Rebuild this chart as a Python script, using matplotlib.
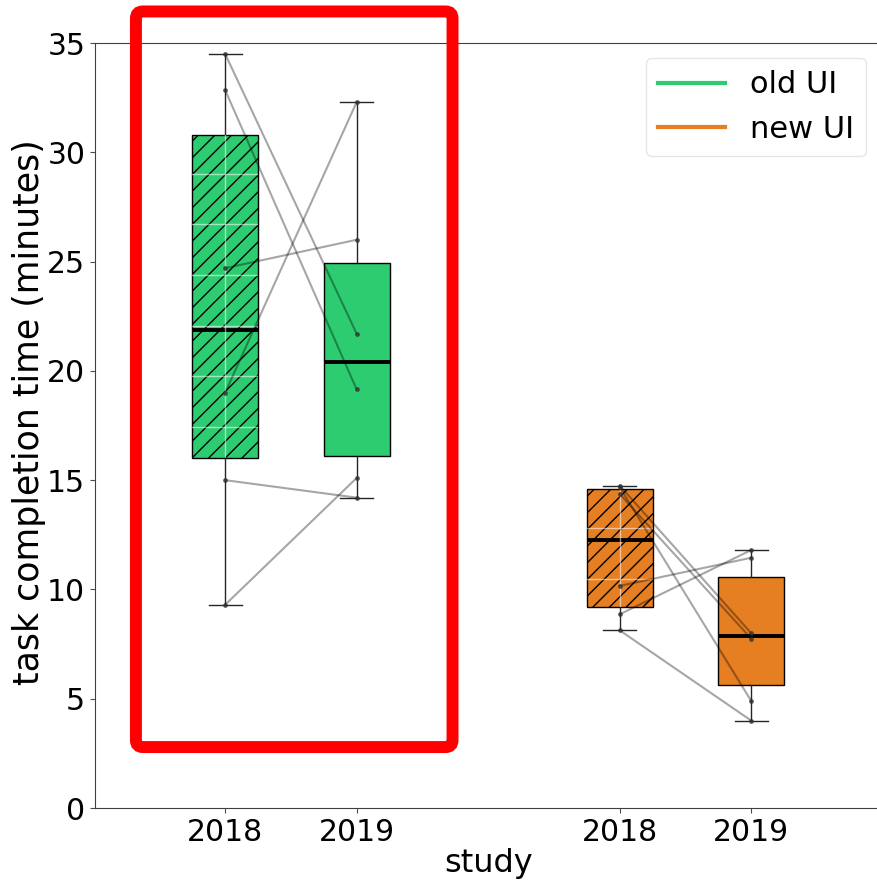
import numpy as np
import matplotlib.pyplot as plt
from matplotlib.lines import Line2D
from matplotlib.patches import FancyBboxPatch

# one value per participant, same order in both studies (lines join them)
years = ['2018', '2019']
old_2018 = [34.5, 32.85, 24.7, 19.0, 15.0, 9.3]
old_2019 = [21.7, 19.15, 26.0, 32.3, 14.2, 15.1]
new_2018 = [14.75, 14.68, 14.37, 10.16, 8.86, 8.13]
new_2019 = [8.0, 4.9, 7.75, 11.45, 11.8, 4.0]
groups = ['old UI', 'new UI']

green = '#2ecc71'
orange = '#e67e22'

fig = plt.figure(figsize=(8.77, 8.82), dpi=100)
ax = fig.add_axes([0.1083, 0.0839, 5.99 * 131.5 / 877, 0.8673])

positions = [1, 2, 4, 5]
data = [old_2018, old_2019, new_2018, new_2019]
colors = [green, green, orange, orange]
hatches = ['//', None, '//', None]

bp = ax.boxplot(data, positions=positions, widths=0.5, patch_artist=True,
                showfliers=False,
                boxprops=dict(edgecolor='k', linewidth=1),
                medianprops=dict(color='k', linewidth=2.8),
                whiskerprops=dict(color='0.15', linewidth=1),
                capprops=dict(color='0.15', linewidth=1))

for box, c, h in zip(bp['boxes'], colors, hatches):
    box.set_facecolor(c)
    if h:
        box.set_hatch(h)

# faint white grid that shows through the hatched boxes
grid_y = np.arange(10.47, 35, 2.32)
for box, pos, h in zip(bp['boxes'], positions, hatches):
    if not h:
        continue
    for gy in grid_y:
        ln = ax.axhline(gy, color='white', lw=1, alpha=0.55, zorder=2.5)
        ln.set_clip_path(box)
    ln = ax.axvline(pos, color='white', lw=1, alpha=0.55, zorder=2.5)
    ln.set_clip_path(box)

# participant lines
for a, b in zip(old_2018, old_2019):
    ax.plot(positions[0:2], [a, b], color='k', alpha=0.35, lw=1.5, zorder=4)
    ax.plot(positions[0:2], [a, b], 'o', color='#333333', ms=2.5, alpha=0.7, zorder=4)
for a, b in zip(new_2018, new_2019):
    ax.plot(positions[2:4], [a, b], color='k', alpha=0.35, lw=1.5, zorder=4)
    ax.plot(positions[2:4], [a, b], 'o', color='#333333', ms=2.5, alpha=0.7, zorder=4)

ax.set_xlim(0.01, 6)
ax.set_ylim(0, 35)
ax.set_yticks(range(0, 36, 5))
ax.set_xticks(positions)
ax.set_xticklabels(years + years)
ax.tick_params(labelsize=21.5, color='0.3')
ax.set_xlabel('study', fontsize=23, labelpad=1)
ax.set_ylabel('task completion time (minutes)', fontsize=25)
ax.yaxis.set_label_coords(-0.062, 0.518)
for s in ax.spines.values():
    s.set_color('0.25')
ax.spines['right'].set_visible(False)

handles = [Line2D([], [], color=green, lw=3), Line2D([], [], color=orange, lw=3)]
ax.legend(handles, groups, loc='upper right', bbox_to_anchor=(0.9875, 0.934),
          bbox_transform=fig.transFigure, borderaxespad=0, handlelength=2.2,
          fontsize=22, framealpha=1, edgecolor='0.9')

# red highlight frame around the old UI group
frame = FancyBboxPatch((0.155, 0.153), 0.361, 0.834,
                       boxstyle='round,pad=0,rounding_size=0.008',
                       transform=fig.transFigure, fill=False,
                       edgecolor='red', linewidth=8.6, zorder=10)
fig.add_artist(frame)

fig.savefig('out.png', dpi=100)
